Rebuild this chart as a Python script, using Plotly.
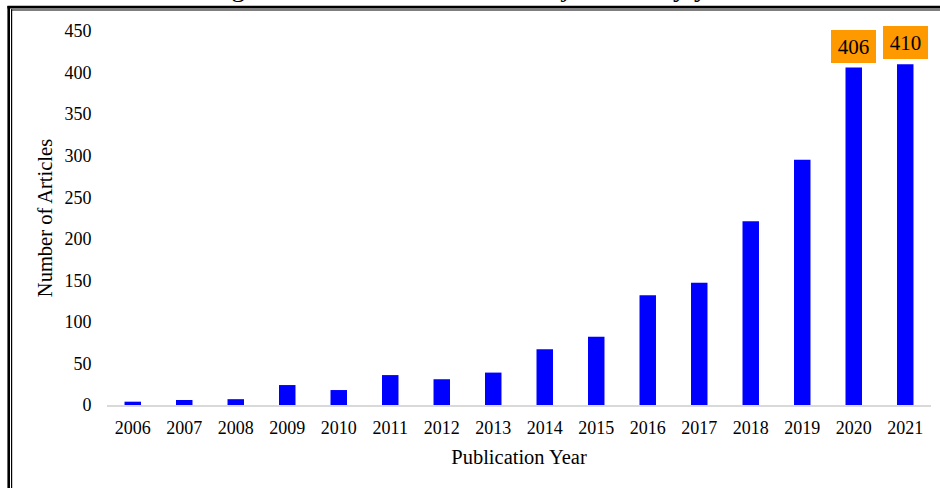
import plotly.graph_objects as go

years = ["2006", "2007", "2008", "2009", "2010", "2011", "2012", "2013",
         "2014", "2015", "2016", "2017", "2018", "2019", "2020", "2021"]
articles = [4, 6, 7, 24, 18, 36, 31, 39, 67, 82, 132, 147, 221, 295, 406, 410]
labelled_years = ["2020", "2021"]
y_ticks = [0, 50, 100, 150, 200, 250, 300, 350, 400, 450]

W, H = 940, 488
ML, MR, MT, MB = 107, 9, 31, 83
PW, PH = W - ML - MR, H - MT - MB

def px_x(p):
    return (p - ML) / PW

def px_y(p):
    return (H - MB - p) / PH

FONT = "Liberation Serif, Times New Roman, serif"

fig = go.Figure()
fig.add_trace(go.Bar(
    x=years, y=articles,
    marker=dict(color="#0000FF", line=dict(width=0)),
    hoverinfo="x+y",
))

annotations = []
for i, (yr, v) in enumerate(zip(years, articles)):
    if yr in labelled_years:
        annotations.append(dict(
            x=i, y=v, xref="x", yref="y",
            text=str(v), showarrow=False,
            xanchor="center", yanchor="bottom", yshift=5,
            width=37, height=25,
            bgcolor="#FF9900", borderpad=3, borderwidth=1,
            bordercolor="#FF9900",
            font=dict(family=FONT, size=21, color="#000000"),
        ))

# clipped caption above the chart (only descenders visible)
annotations.append(dict(
    x=px_x(475), y=1, xref="paper", yref="paper",
    text="Figure 1. Number of articles in journals by year",
    showarrow=False, xanchor="center", yanchor="bottom", yshift=28,
    font=dict(family=FONT, size=28, color="#000000"), borderpad=0,
))

shapes = [
    # double frame: thick outer, thin inner
    dict(type="line", xref="paper", yref="paper",
         x0=px_x(8.7), x1=px_x(8.7), y0=px_y(6), y1=px_y(H + 5),
         line=dict(color="#000000", width=2.6)),
    dict(type="line", xref="paper", yref="paper",
         x0=px_x(11.6), x1=px_x(11.6), y0=px_y(9.3), y1=px_y(H + 5),
         line=dict(color="#000000", width=1.2)),
    dict(type="line", xref="paper", yref="paper",
         x0=px_x(7.4), x1=px_x(W + 5), y0=px_y(7.1), y1=px_y(7.1),
         line=dict(color="#000000", width=2.6)),
    dict(type="line", xref="paper", yref="paper",
         x0=px_x(11), x1=px_x(W + 5), y0=px_y(10), y1=px_y(10),
         line=dict(color="#000000", width=1.2)),
]

fig.update_layout(
    width=W, height=H,
    margin=dict(l=ML, r=MR, t=MT, b=MB),
    paper_bgcolor="#FFFFFF", plot_bgcolor="#FFFFFF",
    bargap=0.68,
    showlegend=False,
    font=dict(family=FONT, color="#000000"),
    annotations=annotations,
    shapes=shapes,
    xaxis=dict(
        type="category", categoryorder="array", categoryarray=years,
        range=[-0.5, len(years) - 0.5], autorange=False,
        showgrid=False, zeroline=False,
        showline=True, linecolor="#D9D9D9", linewidth=1.5,
        ticks="outside", ticklen=6, tickcolor="rgba(0,0,0,0)",
        tickfont=dict(family=FONT, size=18, color="#000000"),
        title=dict(text="Publication Year", standoff=12,
                   font=dict(family=FONT, size=20.5, color="#000000")),
        automargin=False,
    ),
    yaxis=dict(
        range=[0, 450], autorange=False, tickvals=y_ticks,
        showgrid=False, zeroline=False, showline=False,
        ticks="outside", ticklen=11, tickcolor="rgba(0,0,0,0)",
        tickfont=dict(family=FONT, size=18, color="#000000"),
        title=dict(text="Number of Articles", standoff=6,
                   font=dict(family=FONT, size=20.5, color="#000000")),
        automargin=False,
    ),
)

fig.write_html(
    "out.html",
    config={"displayModeBar": False},
    post_script="document.body.style.margin='0';document.body.style.overflow='hidden';",
)
